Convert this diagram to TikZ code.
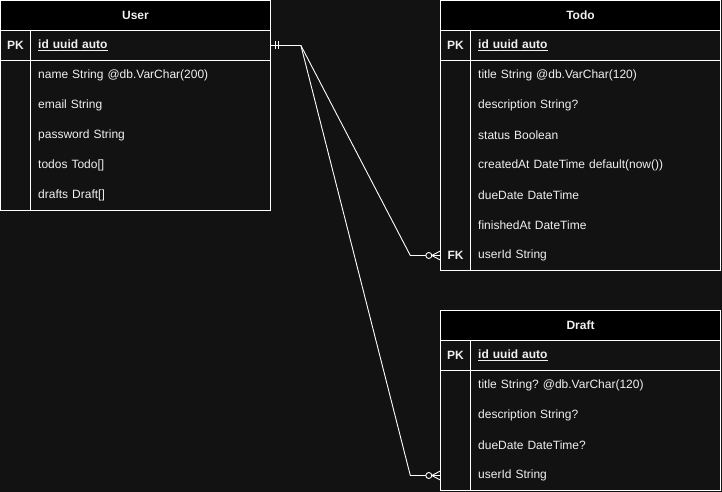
\documentclass[tikz,border=0pt]{standalone}
\usepackage{fontspec}
\setmainfont{Liberation Sans}
\usetikzlibrary{calc}

\definecolor{bgdark}{HTML}{121212}
\definecolor{txtlight}{HTML}{F0F0F0}

\tikzset{
  tbl/.style={draw=white, line width=1pt},
  tblhead/.style={draw=white, fill=black, line width=1pt, minimum height=30pt,
    inner sep=0pt, text=txtlight, font=\bfseries\fontsize{12}{14}\selectfont},
  keycell/.style={minimum width=30pt, minimum height=30pt, inner sep=0pt,
    text=txtlight, font=\bfseries\fontsize{12}{14}\selectfont},
  fieldcell/.style={anchor=west, inner sep=0pt, align=left, minimum height=30pt,
    text=txtlight, font=\fontsize{12}{14}\selectfont},
  rel/.style={draw=white, line width=0.9pt},
}

% zero-or-many end (circle + crow's foot) at the west side of a node
\newcommand{\zeromany}[1]{%
  \draw[rel] ([xshift=-11.5pt]#1.west) circle (3pt);
  \draw[rel] ([xshift=-8.5pt]#1.west) -- ([yshift=4.5pt]#1.west);
  \draw[rel] ([xshift=-8.5pt]#1.west) -- ([yshift=-4.5pt]#1.west);
}

\begin{document}
\frenchspacing
\begin{tikzpicture}[x=1pt,y=-1pt]
  \fill[bgdark] (0,0) rectangle (722,492);

  % User
  \node[tblhead, minimum width=270pt] (user) at (135.5,15.5) {User};
  \draw[tbl] (0.5,30.5) rectangle (270.5,210.5);
  \draw[tbl] (0.5,60.5) -- (270.5,60.5);
  \draw[tbl] (30.5,30.5) -- (30.5,210.5);
  \node[keycell] (user-pk) at (15.5,45.5) {PK};
  \node[fieldcell, text width=232.5pt, font=\bfseries\fontsize{12}{14}\selectfont] (user-id) at (38,45.5) {\underline{id uuid auto}};
  \foreach \i/\f in {1/name String @db.VarChar(200), 2/email String,
      3/password String, 4/todos Todo[], 5/drafts Draft[]}
    \node[fieldcell, text width=232.5pt] (user-f\i) at (38,45.5+30*\i) {\f};

  % Todo
  \node[tblhead, minimum width=280pt] (todo) at (580.5,15.5) {Todo};
  \draw[tbl] (440.5,30.5) rectangle (720.5,270.5);
  \draw[tbl] (440.5,60.5) -- (720.5,60.5);
  \draw[tbl] (470.5,30.5) -- (470.5,270.5);
  \node[keycell] (todo-pk) at (455.5,45.5) {PK};
  \node[fieldcell, text width=242.5pt, font=\bfseries\fontsize{12}{14}\selectfont] (todo-id) at (478,45.5) {\underline{id uuid auto}};
  \foreach \i/\f in {1/title String @db.VarChar(120), 2/description String?,
      3/status Boolean, 4/createdAt DateTime default(now()),
      5/dueDate DateTime, 6/finishedAt DateTime, 7/userId String}
    \node[fieldcell, text width=242.5pt] (todo-f\i) at (478,45.5+30*\i) {\f};
  \node[keycell] (todo-fk) at (455.5,255.5) {FK};

  % Draft
  \node[tblhead, minimum width=280pt] (draft) at (580.5,325.5) {Draft};
  \draw[tbl] (440.5,340.5) rectangle (720.5,490.5);
  \draw[tbl] (440.5,370.5) -- (720.5,370.5);
  \draw[tbl] (470.5,340.5) -- (470.5,490.5);
  \node[keycell] (draft-pk) at (455.5,355.5) {PK};
  \node[fieldcell, text width=242.5pt, font=\bfseries\fontsize{12}{14}\selectfont] (draft-id) at (478,355.5) {\underline{id uuid auto}};
  \foreach \i/\f in {1/title String? @db.VarChar(120), 2/description String?,
      3/dueDate DateTime?, 4/userId String}
    \node[fieldcell, text width=242.5pt] (draft-f\i) at (478,355.5+30*\i) {\f};
  \node[keycell] (draft-uk) at (455.5,475.5) {};

  % relations
  \coordinate (split) at ($(user-id.east)+(30,0)$);
  \draw[rel] (user-id.east) -- (split)
    -- ([xshift=-30pt]todo-fk.west) -- ([xshift=-14.5pt]todo-fk.west);
  \draw[rel] (split)
    -- ([xshift=-30pt]draft-uk.west) -- ([xshift=-14.5pt]draft-uk.west);
  \draw[rel] ([xshift=-8.5pt]todo-fk.west) -- (todo-fk.west);
  \draw[rel] ([xshift=-8.5pt]draft-uk.west) -- (draft-uk.west);
  \zeromany{todo-fk}
  \zeromany{draft-uk}
  % one-and-only-one marks
  \draw[rel] ([xshift=5pt,yshift=4pt]user-id.east) -- ([xshift=5pt,yshift=-4pt]user-id.east);
  \draw[rel] ([xshift=8pt,yshift=4pt]user-id.east) -- ([xshift=8pt,yshift=-4pt]user-id.east);
\end{tikzpicture}
\end{document}
